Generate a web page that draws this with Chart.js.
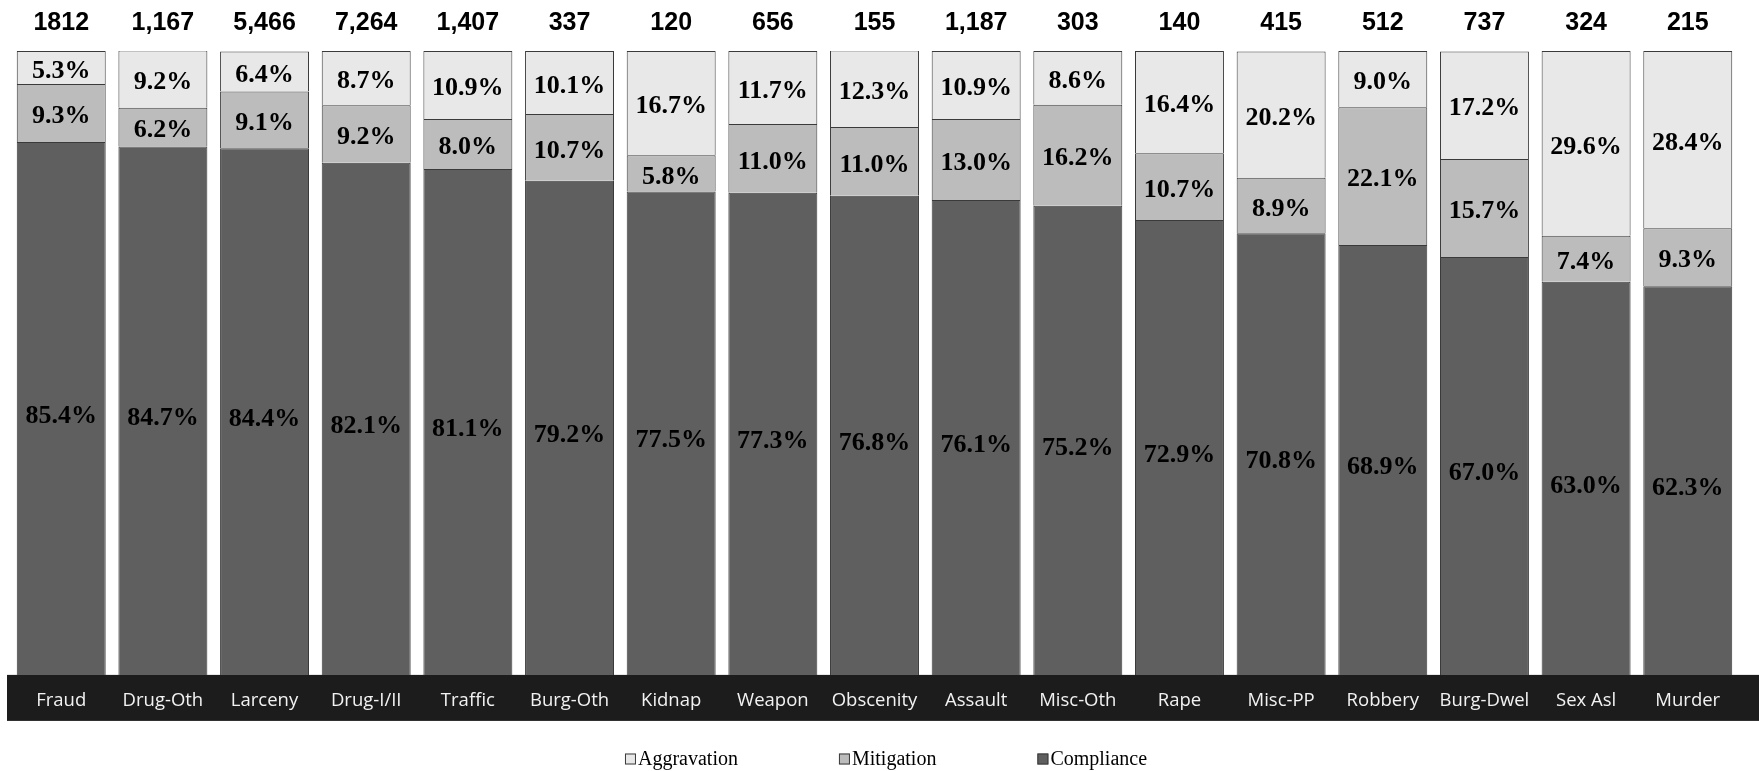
<!DOCTYPE html>
<html><head><meta charset="utf-8">
<script src="https://cdn.jsdelivr.net/npm/chart.js@4.4.0/dist/chart.umd.min.js"></script>
<style>html,body{margin:0;padding:0;background:#fff;} canvas{display:block;}</style>
</head><body>
<canvas id="c" width="1759" height="771"></canvas>
<script>
const categories = ['Fraud','Drug-Oth','Larceny','Drug-I/II','Traffic','Burg-Oth','Kidnap','Weapon','Obscenity','Assault','Misc-Oth','Rape','Misc-PP','Robbery','Burg-Dwel','Sex Asl','Murder'];
const totals = ['1812','1,167','5,466','7,264','1,407','337','120','656','155','1,187','303','140','415','512','737','324','215'];
const compliance = [85.4,84.7,84.4,82.1,81.1,79.2,77.5,77.3,76.8,76.1,75.2,72.9,70.8,68.9,67.0,63.0,62.3];
const mitigation = [9.3,6.2,9.1,9.2,8.0,10.7,5.8,11.0,11.0,13.0,16.2,10.7,8.9,22.1,15.7,7.4,9.3];
const aggravation = [5.3,9.2,6.4,8.7,10.9,10.1,16.7,11.7,12.3,10.9,8.6,16.4,20.2,9.0,17.2,29.6,28.4];
const seriesNames = ['Compliance','Mitigation','Aggravation'];
const seriesColors = ['#5f5f5f','#bcbcbc','#e8e8e8'];
const legendOrder = [2,1,0];

const labelShift = [7.5, 3.5, 3.5];

const decor = {
  id: 'decor',
  beforeDraw(chart) {
    const ctx = chart.ctx, a = chart.chartArea;
    ctx.save();
    ctx.fillStyle = '#1c1c1c';
    ctx.fillRect(7, a.bottom, chart.width - 7, 46);
    ctx.restore();
  },
  afterDatasetsDraw(chart) {
    const ctx = chart.ctx;
    ctx.save();
    ctx.fillStyle = '#000';
    ctx.textAlign = 'center';
    ctx.textBaseline = 'middle';
    ctx.font = 'bold 26px "Liberation Serif", "Times New Roman", serif';
    chart.data.datasets.forEach((ds, di) => {
      const meta = chart.getDatasetMeta(di);
      meta.data.forEach((el, i) => {
        const v = ds.data[i];
        ctx.fillText(v.toFixed(1) + '%', el.x, (el.y + el.base) / 2 + labelShift[di]);
      });
    });
    ctx.font = 'bold 25px "Liberation Sans", Arial, sans-serif';
    const xs = chart.scales.x;
    totals.forEach((t, i) => {
      ctx.fillText(t, xs.getPixelForValue(i), 23);
    });
    // legend
    ctx.font = '20px "Liberation Serif", "Times New Roman", serif';
    ctx.textAlign = 'left';
    const box = 11, gap = 2, spacing = 101;
    const widths = legendOrder.map(k => box + gap + ctx.measureText(seriesNames[k]).width);
    const total = widths.reduce((s, w) => s + w, 0) + spacing * (widths.length - 1);
    let x = 886 - total / 2;
    const y = 759;
    legendOrder.forEach((k, j) => {
      ctx.fillStyle = seriesColors[k];
      ctx.fillRect(x, y - box / 2, box, box);
      ctx.strokeStyle = '#3a3a3a';
      ctx.lineWidth = 1;
      ctx.strokeRect(x + 0.5, y - box / 2 + 0.5, box - 1, box - 1);
      ctx.fillStyle = '#000';
      ctx.fillText(seriesNames[k], x + box + gap, y + 1);
      x += widths[j] + spacing;
    });
    ctx.restore();
  }
};

new Chart(document.getElementById('c'), {
  type: 'bar',
  data: {
    labels: categories,
    datasets: [compliance, mitigation, aggravation].map((d, k) => ({
      label: seriesNames[k],
      data: d,
      backgroundColor: seriesColors[k],
      borderColor: '#3a3a3a',
      borderWidth: 1,
      barPercentage: 0.875,
      categoryPercentage: 1.0
    }))
  },
  options: {
    responsive: false,
    devicePixelRatio: 1,
    animation: false,
    layout: { padding: { top: 51, left: 10.4, right: 20.4, bottom: 51.9 } },
    plugins: { legend: { display: false }, tooltip: { enabled: false } },
    scales: {
      x: {
        stacked: true,
        grid: { display: false },
        border: { display: false },
        ticks: { color: '#f2f2f2', padding: 7, font: { family: '"Open Sans", sans-serif', size: 18.5 } }
      },
      y: { stacked: true, display: false, min: 0, max: 100 }
    }
  },
  plugins: [decor]
});
</script>
</body></html>
